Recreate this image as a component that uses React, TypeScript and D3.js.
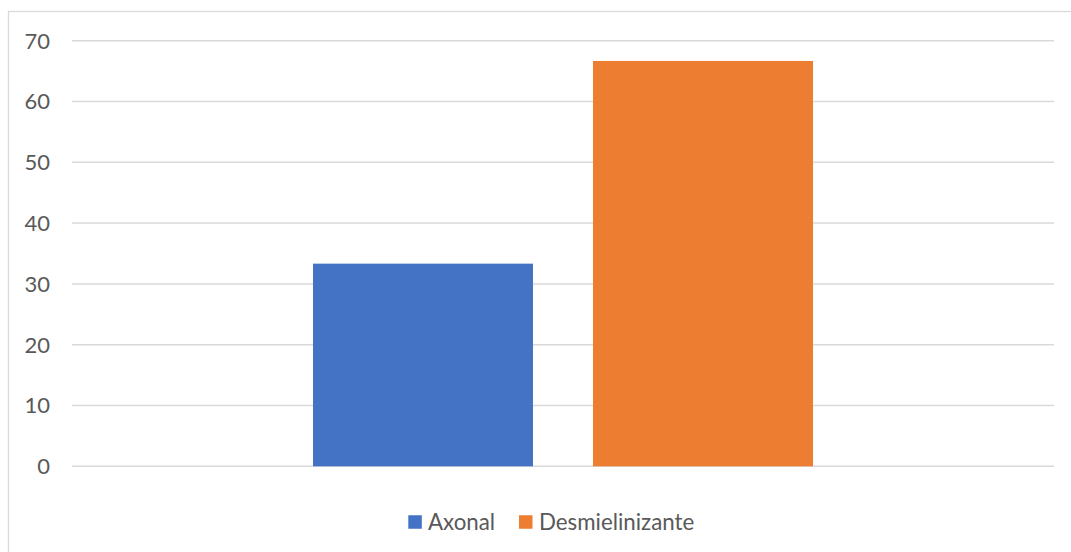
import React from "react";
import * as d3 from "d3";

// Chart data
const categories = ["Tipo"];
const seriesNames = ["Axonal", "Desmielinizante"];
const seriesValues = [33.33, 66.67];
const seriesColors = ["#4472C4", "#ED7D31"];
const yTicks = [0, 10, 20, 30, 40, 50, 60, 70];

const W = 1071;
const H = 552;
const FONT = "Lato, 'Open Sans', sans-serif";
const TEXT_COLOR = "#595959";
const GRID_COLOR = "#D9D9D9";

export default function App() {
  const plotLeft = 72;
  const plotRight = 1054;
  const plotTop = 40.7;
  const plotBottom = 466.3;

  const y = d3.scaleLinear().domain([0, 70]).range([plotBottom, plotTop]);
  const x0 = d3.scaleBand<string>().domain(categories).range([plotLeft, plotRight]);
  const groupWidth = 500;
  const x1 = d3
    .scaleBand<string>()
    .domain(seriesNames)
    .range([0, groupWidth])
    .paddingInner(60 / 280)
    .paddingOuter(0);

  const bandCenter = (c: string) => (x0(c) ?? 0) + x0.bandwidth() / 2;

  // Legend layout
  const legendY = 522;
  const sq = 13.5;
  const legendItems = [
    { name: seriesNames[0], color: seriesColors[0], sqX: 408.3, textX: 428 },
    { name: seriesNames[1], color: seriesColors[1], sqX: 519, textX: 539 },
  ];

  return (
    <svg
      width={W}
      height={H}
      style={{ position: "absolute", left: 0, top: 0, background: "#fff" }}
    >
      <rect x={8.5} y={11.5} width={W + 10} height={H + 10} fill="#fff" stroke={GRID_COLOR} strokeWidth={1.3} />

      {yTicks.map((t) => (
        <g key={t}>
          <line x1={plotLeft} x2={plotRight} y1={y(t)} y2={y(t)} stroke={GRID_COLOR} strokeWidth={1.5} />
          <text
            x={50}
            y={y(t)}
            dy="0.36em"
            textAnchor="end"
            fontFamily={FONT}
            fontSize={22}
            fill={TEXT_COLOR}
          >
            {t}
          </text>
        </g>
      ))}

      {categories.map((c) =>
        seriesNames.map((s, i) => {
          const gx = bandCenter(c) - groupWidth / 2;
          return (
            <rect
              key={s}
              x={gx + (x1(s) ?? 0)}
              y={y(seriesValues[i])}
              width={x1.bandwidth()}
              height={y(0) - y(seriesValues[i])}
              fill={seriesColors[i]}
            />
          );
        })
      )}

      {legendItems.map((it) => (
        <g key={it.name}>
          <rect x={it.sqX} y={legendY - sq / 2} width={sq} height={sq} fill={it.color} />
          <text
            x={it.textX}
            y={legendY}
            dy="0.36em"
            fontFamily={FONT}
            fontSize={22.3}
            fill={TEXT_COLOR}
          >
            {it.name}
          </text>
        </g>
      ))}
    </svg>
  );
}
